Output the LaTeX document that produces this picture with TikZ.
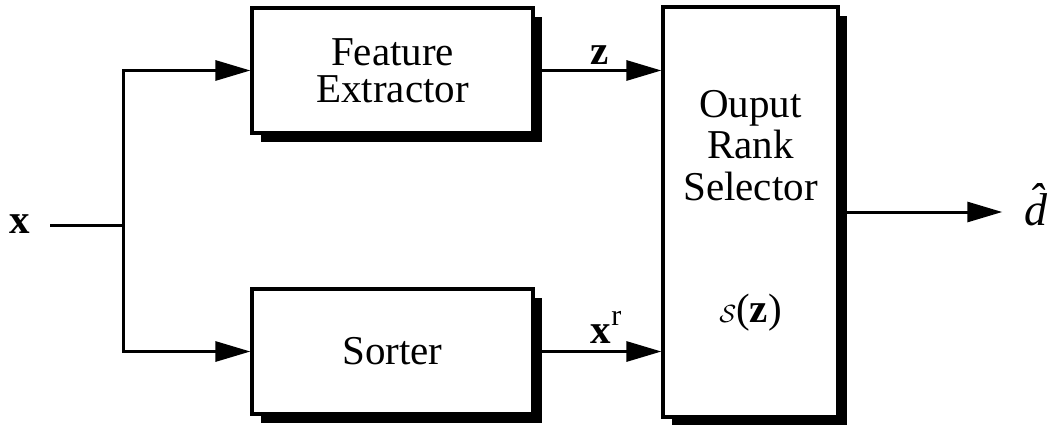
\documentclass[tikz,border=0pt]{standalone}
\usepackage{fontspec}
\setmainfont{Liberation Serif}
\usetikzlibrary{arrows.meta,shadows}
\begin{document}
\begin{tikzpicture}[x=1pt,y=-1pt,
  blk/.style={draw=black,line width=3.2pt,fill=white,inner sep=0pt,
    drop shadow={shadow xshift=9pt,shadow yshift=-9pt,fill=black,opacity=1}},
  wire/.style={line width=3pt},
  arr/.style={wire,-{Triangle[length=35pt,width=20pt]}},
  txt/.style={font=\fontsize{41}{37}\selectfont,inner sep=0pt},
]
\useasboundingbox (0,0) rectangle (1052,425);

% blocks
\node[blk,txt,align=center,minimum width=281pt,minimum height=125pt] (fe) at (392.5,70.5) {Feature\\Extractor};
\node[blk,txt,minimum width=281pt,minimum height=125pt] (so) at (392.5,351.5) {Sorter};
\node[blk,minimum width=175pt,minimum height=410pt] (out) at (750.5,212) {};

% text inside the rank selector
\node[txt,anchor=base] (t1) at (750.5,118) {Ouput};
\node[txt,anchor=base] (t2) at (750.5,158) {Rank};
\node[txt,anchor=base] (t3) at (750.5,200) {Selector};
\node[txt] (sel) at (750.5,313) {$\mathcal{S}$(\textbf{z})};

% input and branch
\node[txt,anchor=base] (xin) at (20,233) {\textbf{x}};
\coordinate (jn) at (123,225);
\draw[wire,shorten <=20pt] (xin.east |- jn) -- (jn);
\draw[arr] (jn) |- (fe.west);
\draw[arr] (jn) |- (so.west);

% links into the rank selector
\draw[arr] (fe.east) -- (fe.east -| out.west);
\draw[arr] (so.east) -- (so.east -| out.west);
\node[txt,anchor=base] (zl) at (600,65) {\textbf{z}};
\node[txt,anchor=base] (xr) at (606,343) {\textbf{x}\raisebox{0.42em}{\fontsize{30}{30}\selectfont r}};

% output
\node[txt,anchor=base,font=\fontsize{46}{46}\selectfont] (dh) at (1036,225) {\^{\itshape d}};
\draw[arr,shorten >=22pt] (out.east) -- (dh.west |- out.east);
\end{tikzpicture}
\end{document}
